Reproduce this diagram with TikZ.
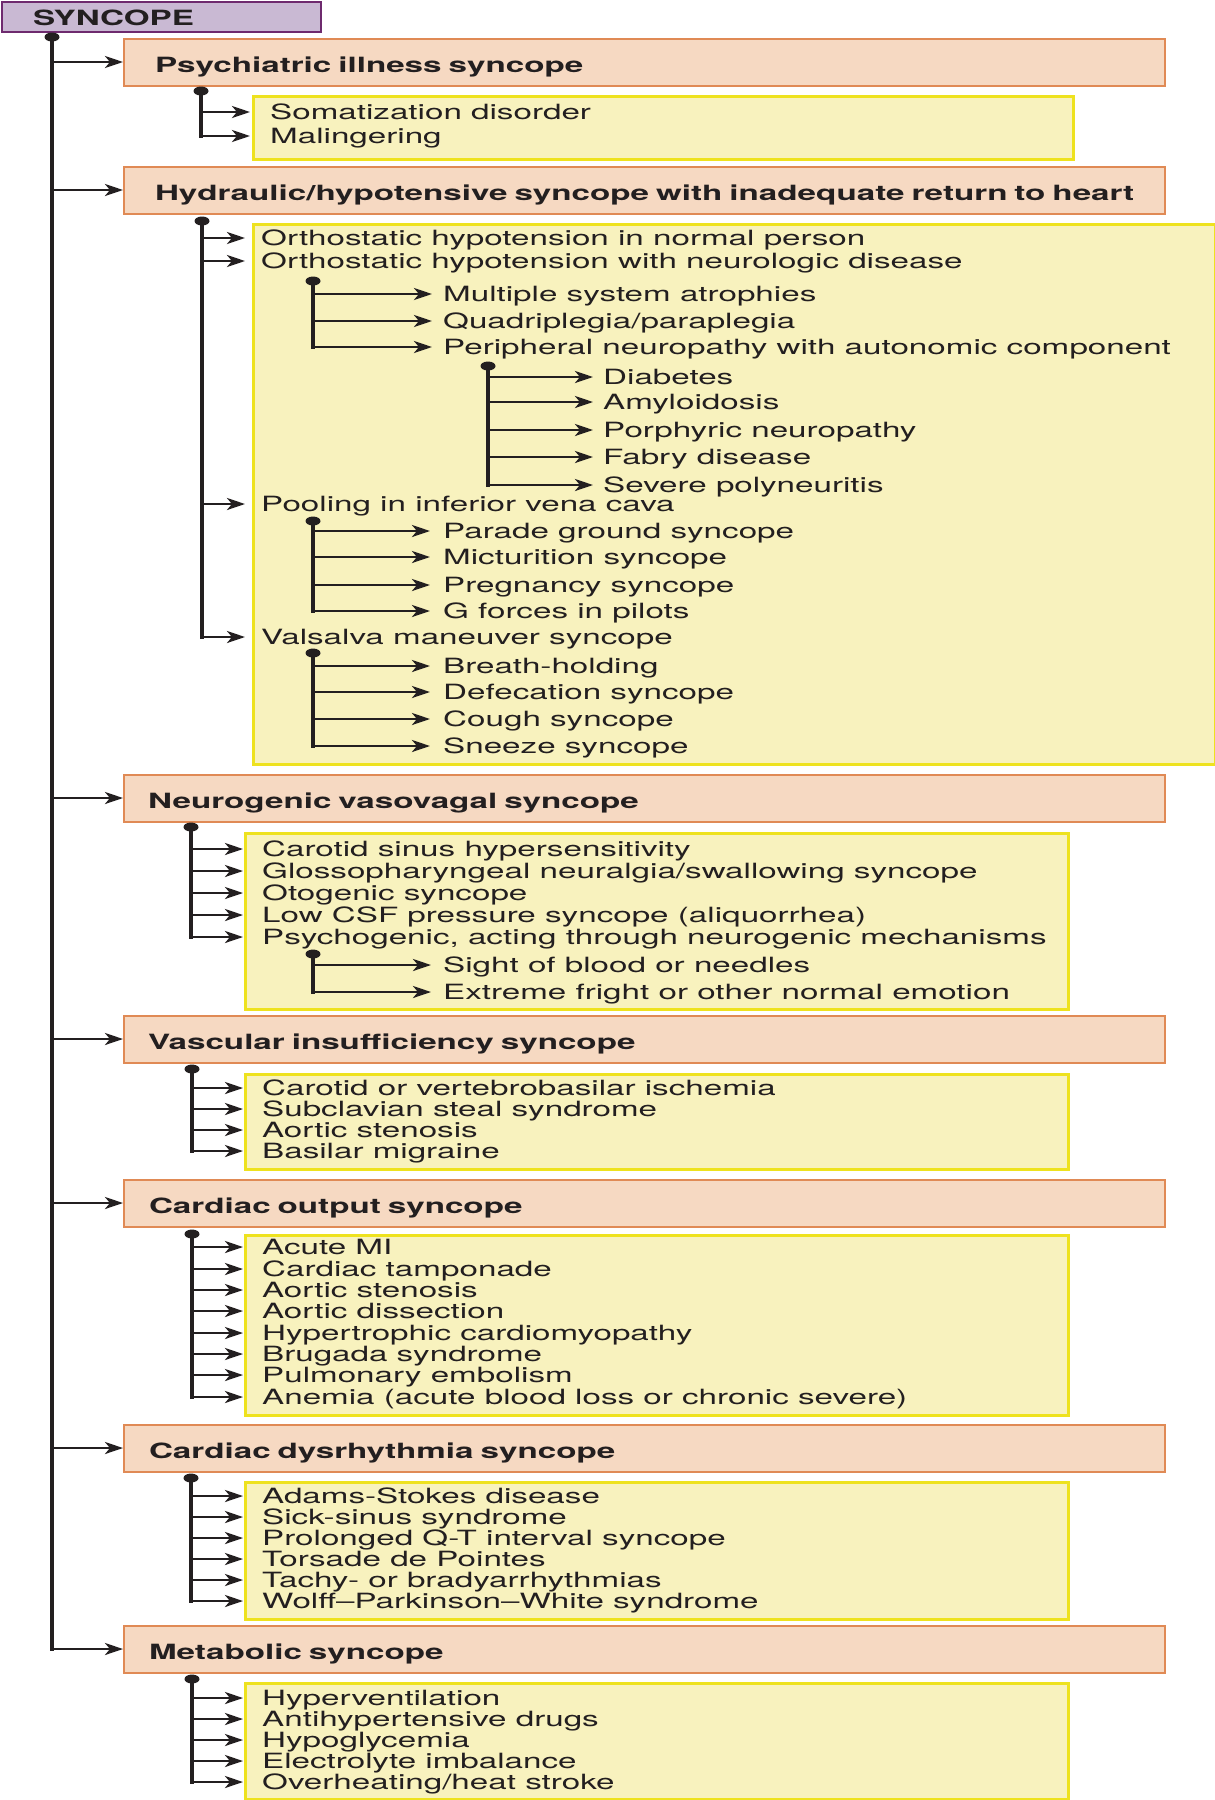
\documentclass[tikz,border=0pt]{standalone}
\usepackage{fontspec}
\setmainfont{TeX Gyre Heros}[FakeStretch=1.58]
\usetikzlibrary{arrows.meta,shapes.geometric}
\definecolor{ink}{HTML}{231F20}
\definecolor{purf}{HTML}{C9B9D3}
\definecolor{purb}{HTML}{6E2A6E}
\definecolor{catf}{HTML}{F6D9C2}
\definecolor{catb}{HTML}{E08A55}
\definecolor{yelf}{HTML}{F8F2BE}
\definecolor{yelb}{HTML}{EEE21E}
\newcommand{\bodyfont}{\fontsize{21}{21}\selectfont}
\tikzset{
  br/.style={draw=ink, line width=2.8pt, -{Stealth[length=18pt,width=12pt,inset=5pt]}},
  spine/.style={draw=ink, line width=4pt, line cap=rect},
  dotn/.style={ellipse, fill=ink, minimum width=15pt, minimum height=9pt, inner sep=0pt},
  cat/.style={rectangle, draw=catb, fill=catf, line width=2pt, minimum height=47pt,
    text width=1033pt, inner xsep=4pt, align=left, anchor=west, font=\bodyfont\bfseries, text=ink,
    text height=20.5pt, text depth=0pt},
  ybox/.style={rectangle, draw=yelb, fill=yelf, line width=2.5pt, anchor=north west, inner sep=0pt},
  item/.style={anchor=west, inner ysep=0pt, inner xsep=19pt, text height=15pt, text depth=0pt, text=ink, font=\bodyfont},
}
\begin{document}
\begin{tikzpicture}[x=1pt,y=-1pt,font=\bodyfont]
\useasboundingbox (0,0) rectangle (1215,1800);
% top box
\node[rectangle, draw=purb, fill=purf, line width=2pt, anchor=north west, minimum width=319pt,
  minimum height=30pt, text width=311pt, inner xsep=4pt, inner ysep=0pt, align=left, font=\bodyfont\bfseries, text=ink,
  text height=17pt, text depth=0pt]
  (top) at (1,1) {\hspace*{27pt}SYNCOPE};
% category boxes
\node[cat] (c1) at (123,62) {\hspace*{27pt}Psychiatric illness syncope};
\node[cat] (c2) at (123,190) {\hspace*{27pt}Hydraulic/hypotensive syncope with inadequate return to heart};
\node[cat] (c3) at (123,798) {\hspace*{20pt}Neurogenic vasovagal syncope};
\node[cat] (c4) at (123,1039) {\hspace*{20pt}Vascular insufficiency syncope};
\node[cat] (c5) at (123,1203) {\hspace*{21pt}Cardiac output syncope};
\node[cat] (c6) at (123,1448) {\hspace*{21pt}Cardiac dysrhythmia syncope};
\node[cat] (c7) at (123,1649) {\hspace*{21pt}Metabolic syncope};
% yellow boxes
\node[ybox, minimum width=820pt, minimum height=63pt] (y1) at (252,95) {};
\node[ybox, minimum width=962pt, minimum height=540pt] (y2) at (252,223) {};
\node[ybox, minimum width=823pt, minimum height=176pt] (y3) at (244,832) {};
\node[ybox, minimum width=823pt, minimum height=95pt] (y4) at (244,1073) {};
\node[ybox, minimum width=823pt, minimum height=180pt] (y5) at (244,1234) {};
\node[ybox, minimum width=823pt, minimum height=137pt] (y6) at (244,1481) {};
\node[ybox, minimum width=823pt, minimum height=116pt] (y7) at (244,1682) {};
% main spine
\node[dotn] (k0) at (52,37) {};
\draw[spine] (k0.center) -- (k0 |- c7.west);
\foreach \c in {c1,c2,c3,c4,c5,c6,c7} \draw[br] (k0 |- \c.west) -- (\c.west);
% ---- psychiatric
\node[item, inner xsep=20pt] (p1) at (250,112) {Somatization disorder};
\node[item, inner xsep=20pt] (p2) at (250,136) {Malingering};
\node[dotn] (kp) at (201,91) {};
\draw[spine] (kp.center) -- (kp |- p2.west);
\foreach \n in {p1,p2} \draw[br] (kp |- \n.west) -- (\n.west);
% ---- hydraulic
\node[item, inner xsep=16pt] (h1) at (245,238) {Orthostatic hypotension in normal person};
\node[item, inner xsep=16pt] (h2) at (245,261) {Orthostatic hypotension with neurologic disease};
\node[item, inner xsep=16pt] (h3) at (245,504) {Pooling in inferior vena cava};
\node[item, inner xsep=16pt] (h4) at (245,637) {Valsalva maneuver syncope};
\node[dotn] (kh) at (202,221) {};
\draw[spine] (kh.center) -- (kh |- h4.west);
\foreach \n in {h1,h2,h3,h4} \draw[br] (kh |- \n.west) -- (\n.west);
% neurologic disease
\node[item, inner xsep=11pt] (hn1) at (432,294) {Multiple system atrophies};
\node[item, inner xsep=11pt] (hn2) at (432,321) {Quadriplegia/paraplegia};
\node[item, inner xsep=11pt] (hn3) at (432,347) {Peripheral neuropathy with autonomic component};
\node[dotn] (khn) at (313,281) {};
\draw[spine] (khn.center) -- (khn |- hn3.west);
\foreach \n in {hn1,hn2,hn3} \draw[br] (khn |- \n.west) -- (\n.west);
% peripheral neuropathy
\node[item, inner xsep=10pt] (hp1) at (593,377) {Diabetes};
\node[item, inner xsep=10pt] (hp2) at (593,402) {Amyloidosis};
\node[item, inner xsep=10pt] (hp3) at (593,430) {Porphyric neuropathy};
\node[item, inner xsep=10pt] (hp4) at (593,457) {Fabry disease};
\node[item, inner xsep=10pt] (hp5) at (593,485) {Severe polyneuritis};
\node[dotn] (khp) at (488,366) {};
\draw[spine] (khp.center) -- (khp |- hp5.west);
\foreach \n in {hp1,hp2,hp3,hp4,hp5} \draw[br] (khp |- \n.west) -- (\n.west);
% pooling
\node[item, inner xsep=13pt] (hq1) at (430,531) {Parade ground syncope};
\node[item, inner xsep=13pt] (hq2) at (430,557) {Micturition syncope};
\node[item, inner xsep=13pt] (hq3) at (430,585) {Pregnancy syncope};
\node[item, inner xsep=13pt] (hq4) at (430,611) {G forces in pilots};
\node[dotn] (khq) at (313,521) {};
\draw[spine] (khq.center) -- (khq |- hq4.west);
\foreach \n in {hq1,hq2,hq3,hq4} \draw[br] (khq |- \n.west) -- (\n.west);
% valsalva
\node[item, inner xsep=13pt] (hv1) at (430,666) {Breath-holding};
\node[item, inner xsep=13pt] (hv2) at (430,692) {Defecation syncope};
\node[item, inner xsep=13pt] (hv3) at (430,719) {Cough syncope};
\node[item, inner xsep=13pt] (hv4) at (430,746) {Sneeze syncope};
\node[dotn] (khv) at (313,653) {};
\draw[spine] (khv.center) -- (khv |- hv4.west);
\foreach \n in {hv1,hv2,hv3,hv4} \draw[br] (khv |- \n.west) -- (\n.west);
% ---- neurogenic
\node[item] (n1) at (243,849) {Carotid sinus hypersensitivity};
\node[item] (n2) at (243,871) {Glossopharyngeal neuralgia/swallowing syncope};
\node[item] (n3) at (243,893) {Otogenic syncope};
\node[item] (n4) at (243,915) {Low CSF pressure syncope (aliquorrhea)};
\node[item] (n5) at (243,937) {Psychogenic, acting through neurogenic mechanisms};
\node[dotn] (kn) at (191,827) {};
\draw[spine] (kn.center) -- (kn |- n5.west);
\foreach \n in {n1,n2,n3,n4,n5} \draw[br] (kn |- \n.west) -- (\n.west);
\node[item, inner xsep=12pt] (ns1) at (431,965) {Sight of blood or needles};
\node[item, inner xsep=12pt] (ns2) at (431,992) {Extreme fright or other normal emotion};
\node[dotn] (kns) at (313,954) {};
\draw[spine] (kns.center) -- (kns |- ns2.west);
\foreach \n in {ns1,ns2} \draw[br] (kns |- \n.west) -- (\n.west);
% ---- vascular
\node[item] (v1) at (243,1088) {Carotid or vertebrobasilar ischemia};
\node[item] (v2) at (243,1109) {Subclavian steal syndrome};
\node[item] (v3) at (243,1130) {Aortic stenosis};
\node[item] (v4) at (243,1151) {Basilar migraine};
\node[dotn] (kv) at (192,1069) {};
\draw[spine] (kv.center) -- (kv |- v4.west);
\foreach \n in {v1,v2,v3,v4} \draw[br] (kv |- \n.west) -- (\n.west);
% ---- cardiac output
\node[item] (o1) at (243,1247) {Acute MI};
\node[item] (o2) at (243,1269) {Cardiac tamponade};
\node[item] (o3) at (243,1290) {Aortic stenosis};
\node[item] (o4) at (243,1311) {Aortic dissection};
\node[item] (o5) at (243,1333) {Hypertrophic cardiomyopathy};
\node[item] (o6) at (243,1354) {Brugada syndrome};
\node[item] (o7) at (243,1375) {Pulmonary embolism};
\node[item] (o8) at (243,1397) {Anemia (acute blood loss or chronic severe)};
\node[dotn] (ko) at (192,1234) {};
\draw[spine] (ko.center) -- (ko |- o8.west);
\foreach \n in {o1,o2,o3,o4,o5,o6,o7,o8} \draw[br] (ko |- \n.west) -- (\n.west);
% ---- dysrhythmia
\node[item] (d1) at (243,1496) {Adams-Stokes disease};
\node[item] (d2) at (243,1517) {Sick-sinus syndrome};
\node[item] (d3) at (243,1538) {Prolonged Q-T interval syncope};
\node[item] (d4) at (243,1559) {Torsade de Pointes};
\node[item] (d5) at (243,1580) {Tachy- or bradyarrhythmias};
\node[item] (d6) at (243,1601) {Wolff–Parkinson–White syndrome};
\node[dotn] (kd) at (191,1478) {};
\draw[spine] (kd.center) -- (kd |- d6.west);
\foreach \n in {d1,d2,d3,d4,d5,d6} \draw[br] (kd |- \n.west) -- (\n.west);
% ---- metabolic
\node[item] (m1) at (243,1698) {Hyperventilation};
\node[item] (m2) at (243,1719) {Antihypertensive drugs};
\node[item] (m3) at (243,1740) {Hypoglycemia};
\node[item] (m4) at (243,1761) {Electrolyte imbalance};
\node[item] (m5) at (243,1782) {Overheating/heat stroke};
\node[dotn] (km) at (192,1679) {};
\draw[spine] (km.center) -- (km |- m5.west);
\foreach \n in {m1,m2,m3,m4,m5} \draw[br] (km |- \n.west) -- (\n.west);
\end{tikzpicture}
\end{document}
